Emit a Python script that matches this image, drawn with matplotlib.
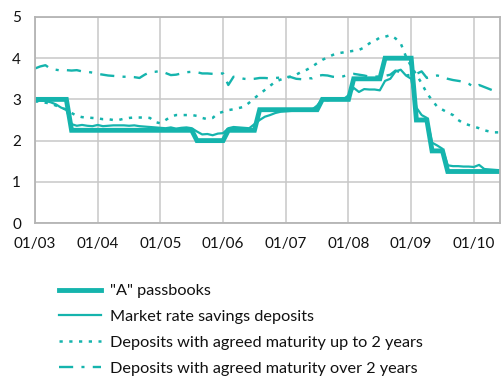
import matplotlib
matplotlib.use("Agg")
import matplotlib.pyplot as plt
import numpy as np

plt.rcParams['font.family'] = ['Lato', 'DejaVu Sans']

# Monthly observations, Jan 2003 - Jun 2010
start_year = 2003
passbook_a = ([3.0] * 7 + [2.25] * 24 + [2.0] * 6 + [2.25] * 6 + [2.75] * 12
              + [3.0] * 6 + [3.5] * 6 + [4.0] * 6 + [2.5] * 3 + [1.75] * 3 + [1.25] * 11)

market_rate = [2.95, 2.97, 2.96, 2.93, 2.88, 2.80, 2.75, 2.40, 2.36, 2.38,
               2.36, 2.35, 2.38, 2.35, 2.36, 2.37, 2.37, 2.37, 2.36, 2.37,
               2.35, 2.34, 2.33, 2.32, 2.31, 2.30, 2.32, 2.29, 2.31, 2.32,
               2.30, 2.22, 2.15, 2.16, 2.13, 2.17, 2.18, 2.30, 2.33, 2.32,
               2.31, 2.30, 2.40, 2.50, 2.58, 2.62, 2.67, 2.70, 2.71, 2.72,
               2.73, 2.74, 2.74, 2.75, 2.85, 3.00, 2.98, 3.00, 3.00, 3.00,
               3.10, 3.28, 3.18, 3.25, 3.24, 3.24, 3.22, 3.45, 3.50, 3.68,
               3.72, 3.58, 3.50, 2.80, 2.62, 2.55, 1.95, 1.88, 1.80, 1.40,
               1.38, 1.38, 1.37, 1.37, 1.36, 1.41, 1.31, 1.30, 1.29, 1.28]

up_to_2y = [2.95, 2.95, 2.92, 2.90, 2.85, 2.80, 2.75, 2.67, 2.60, 2.57,
            2.56, 2.55, 2.54, 2.52, 2.52, 2.50, 2.50, 2.53, 2.55, 2.56,
            2.56, 2.56, 2.55, 2.45, 2.42, 2.50, 2.58, 2.62, 2.62, 2.62,
            2.62, 2.60, 2.55, 2.52, 2.55, 2.66, 2.70, 2.74, 2.76, 2.79,
            2.82, 2.92, 3.03, 3.13, 3.23, 3.33, 3.43, 3.48, 3.52, 3.56,
            3.60, 3.67, 3.72, 3.79, 3.88, 3.96, 4.02, 4.08, 4.12, 4.14,
            4.16, 4.18, 4.20, 4.26, 4.36, 4.42, 4.50, 4.52, 4.56, 4.48,
            4.36, 4.04, 3.80, 3.60, 3.39, 3.15, 2.98, 2.82, 2.75, 2.68,
            2.62, 2.50, 2.42, 2.38, 2.34, 2.30, 2.25, 2.22, 2.20, 2.20]

over_2y = [3.75, 3.80, 3.83, 3.74, 3.72, 3.70, 3.71, 3.70, 3.71, 3.68,
           3.67, 3.65, 3.62, 3.60, 3.58, 3.57, 3.56, 3.55, 3.55, 3.54,
           3.52, 3.60, 3.66, 3.67, 3.69, 3.64, 3.59, 3.60, 3.63, 3.66,
           3.67, 3.66, 3.63, 3.63, 3.62, 3.63, 3.63, 3.35, 3.55, 3.53,
           3.50, 3.49, 3.50, 3.52, 3.52, 3.51, 3.52, 3.53, 3.55, 3.54,
           3.50, 3.49, 3.52, 3.51, 3.57, 3.59, 3.58, 3.55, 3.54, 3.56,
           3.60, 3.62, 3.60, 3.58, 3.55, 3.55, 3.56, 3.57, 3.60, 3.70,
           3.65, 3.58, 3.60, 3.62, 3.68, 3.52, 3.56, 3.58, 3.55, 3.50,
           3.47, 3.45, 3.43, 3.38, 3.30, 3.35, 3.30, 3.25, 3.20, 3.16]

tick_labels = ['01/03', '01/04', '01/05', '01/06', '01/07', '01/08', '01/09', '01/10']
series_names = ['"A" passbooks', 'Market rate savings deposits',
                'Deposits with agreed maturity up to 2 years',
                'Deposits with agreed maturity over 2 years']

teal = '#15b4ad'
months = np.arange(len(passbook_a))

fig = plt.figure(figsize=(5.04, 3.77), dpi=100)
ax = fig.add_axes([35 / 504, 1 - 223 / 377, 465 / 504, 206 / 377])

l1, = ax.plot(months, passbook_a, color=teal, lw=3.5, solid_joinstyle='miter')
l2, = ax.plot(months, market_rate, color=teal, lw=1.6)
l3, = ax.plot(months, up_to_2y, color=teal, lw=1.8, linestyle=(0, (1.3, 2.6)))
l4, = ax.plot(months, over_2y, color=teal, lw=1.7, linestyle=(0, (6, 3.5, 1.3, 3.5)))

ax.set_xlim(0, len(months) - 1)
ax.set_ylim(0, 5)
ax.set_xticks(np.arange(len(tick_labels)) * 12)
ax.set_xticklabels(tick_labels)
ax.set_yticks(range(6))
ax.grid(True, color='#c8c8c8', lw=1.1)
ax.set_axisbelow(True)
for s in ax.spines.values():
    s.set_color('#b4b4b4')
    s.set_linewidth(1.3)
ax.tick_params(length=0, labelsize=11, colors='#111111')
ax.tick_params(axis='x', pad=10)
ax.tick_params(axis='y', pad=10)

leg = fig.legend([l1, l2, l3, l4], series_names, loc='upper left',
                 bbox_to_anchor=(59 / 504, 1 - 284 / 377), frameon=False,
                 fontsize=11.7, handlelength=2.6, handletextpad=0.55,
                 labelspacing=0.7, borderpad=0, borderaxespad=0)
for t in leg.get_texts():
    t.set_color('#111111')

fig.savefig('out.png', dpi=100)
